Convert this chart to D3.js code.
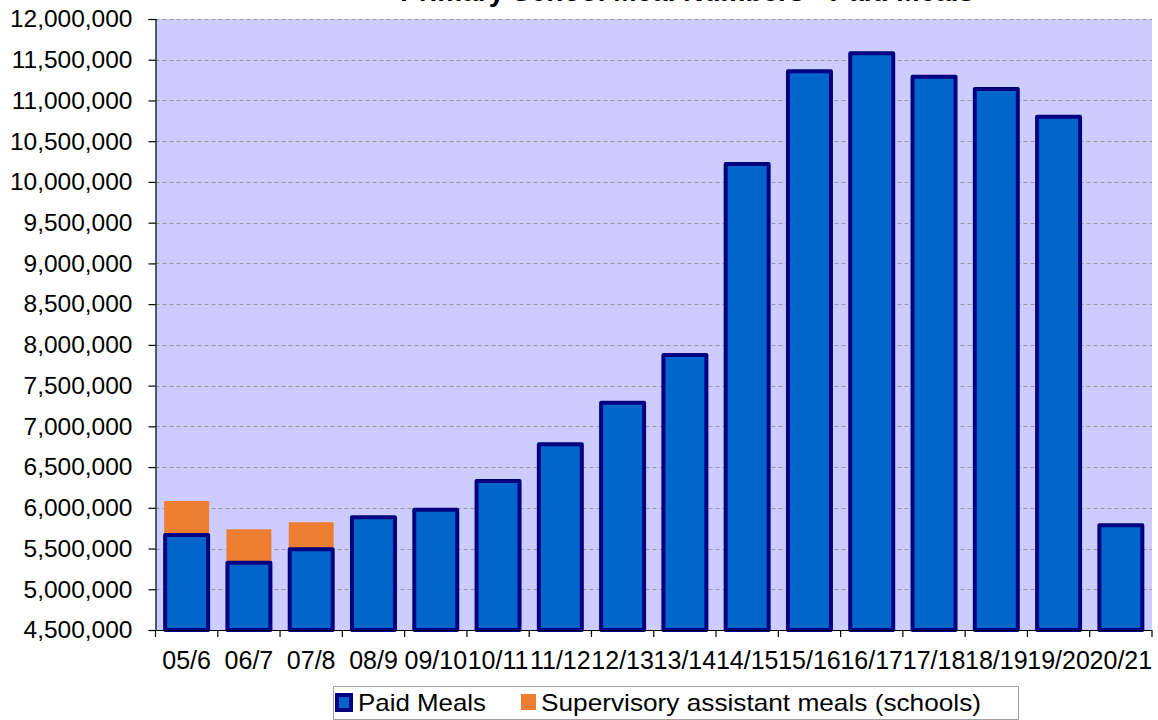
<!DOCTYPE html>
<html>
<head>
<meta charset="utf-8">
<script src="https://cdn.jsdelivr.net/npm/d3@7"></script>
<style>
  html, body { margin: 0; padding: 0; background: #fff; }
  svg { display: block; font-family: "Liberation Sans", Arial, sans-serif; }
</style>
</head>
<body>
<svg id="chart" width="1158" height="720"></svg>
<script>
const title = "Primary School Meal Numbers - Paid Meals";
const categories = ["05/6","06/7","07/8","08/9","09/10","10/11","11/12","12/13","13/14","14/15","15/16","16/17","17/18","18/19","19/20","20/21"];
const paidMeals = [5665000, 5325000, 5490000, 5885000, 5975000, 6330000, 6780000, 7290000, 7875000, 10220000, 11360000, 11580000, 11290000, 11140000, 10800000, 5785000];
const supervisoryMeals = [418000, 411000, 333000, 0, 0, 0, 0, 0, 0, 0, 0, 0, 0, 0, 0, 0];
const yTicks = [4500000, 5000000, 5500000, 6000000, 6500000, 7000000, 7500000, 8000000, 8500000, 9000000, 9500000, 10000000, 10500000, 11000000, 11500000, 12000000];
const seriesNames = ["Paid Meals", "Supervisory assistant meals (schools)"];

const svg = d3.select("#chart");
const m = { left: 155.5, right: 1152, top: 19, bottom: 630 };

const x = d3.scaleBand().domain(categories).range([m.left, m.right]).paddingInner(0.31).paddingOuter(0.155);
const xStep = d3.scaleBand().domain(categories).range([m.left, m.right]).padding(0);
const y = d3.scaleLinear().domain([4500000, 12000000]).range([m.bottom, m.top]);

// plot background
svg.append("rect").attr("x", m.left).attr("y", m.top)
  .attr("width", m.right - m.left).attr("height", m.bottom - m.top)
  .attr("fill", "#CCCCFF");

// gridlines
svg.append("g").selectAll("line").data(yTicks.slice(1)).join("line")
  .attr("x1", m.left).attr("x2", m.right)
  .attr("y1", d => Math.round(y(d)) + 0.5).attr("y2", d => Math.round(y(d)) + 0.5)
  .attr("stroke", "#9a9a9a").attr("stroke-width", 1.2).attr("stroke-dasharray", "4,3");

// title (cropped at top, as in the reference)
svg.append("text").attr("x", 400).attr("y", 1)
  .attr("font-size", 28).attr("font-weight", "bold").attr("fill", "#000")
  .text(title);

// supervisory (stacked on top of paid)
svg.append("g").selectAll("rect").data(categories.filter((c, i) => supervisoryMeals[i] > 0)).join("rect")
  .attr("x", c => x(c) - 1)
  .attr("width", x.bandwidth() + 2)
  .attr("y", c => { const i = categories.indexOf(c); return y(paidMeals[i] + supervisoryMeals[i]); })
  .attr("height", c => { const i = categories.indexOf(c); return y(paidMeals[i]) - y(paidMeals[i] + supervisoryMeals[i]); })
  .attr("fill", "#ED7D31");

// paid bars
svg.append("g").selectAll("rect").data(categories).join("rect")
  .attr("x", c => x(c))
  .attr("width", x.bandwidth())
  .attr("y", (c, i) => y(paidMeals[i]))
  .attr("height", (c, i) => y(4500000) - y(paidMeals[i]))
  .attr("fill", "#0066CC")
  .attr("stroke", "#000080").attr("stroke-width", 4).attr("stroke-linejoin", "round");

// y axis
const yAxis = d3.axisLeft(y).tickValues(yTicks).tickSize(7).tickPadding(16)
  .tickFormat(d3.format(","));
const gy = svg.append("g").attr("transform", `translate(${m.left},0)`).call(yAxis);
gy.select(".domain").attr("stroke", "#000").attr("stroke-width", 1.2);
gy.selectAll(".tick line").attr("stroke", "#000").attr("stroke-width", 1.2);
gy.selectAll(".tick text").attr("font-size", 24.5).attr("fill", "#000")
  .attr("font-family", "Liberation Sans, Arial, sans-serif");

// x axis
const gx = svg.append("g").attr("transform", `translate(0,${m.bottom})`);
gx.append("line").attr("x1", m.left).attr("x2", m.right).attr("y1", 0.5).attr("y2", 0.5)
  .attr("stroke", "#000").attr("stroke-width", 1.2);
const boundaries = categories.map(c => xStep(c)).concat([xStep(categories[categories.length - 1]) + xStep.bandwidth()]);
gx.selectAll("line.tk").data(boundaries).join("line").attr("class", "tk")
  .attr("x1", d => d).attr("x2", d => d).attr("y1", 0).attr("y2", 7)
  .attr("stroke", "#000").attr("stroke-width", 1.2);
gx.selectAll("text").data(categories).join("text")
  .attr("x", c => xStep(c) + xStep.bandwidth() / 2)
  .attr("y", 39).attr("text-anchor", "middle")
  .attr("font-size", 25).attr("fill", "#000")
  .text(c => c);

// legend
const lg = svg.append("g");
lg.append("rect").attr("x", 333.5).attr("y", 686.5).attr("width", 685).attr("height", 33)
  .attr("fill", "#fff").attr("stroke", "#a0a0a0").attr("stroke-width", 1);
lg.append("rect").attr("x", 337).attr("y", 695).attr("width", 14).attr("height", 15)
  .attr("fill", "#0066CC").attr("stroke", "#000080").attr("stroke-width", 4);
lg.append("text").attr("x", 358).attr("y", 711).attr("font-size", 24).attr("fill", "#000")
  .attr("textLength", 128).attr("lengthAdjust", "spacingAndGlyphs").text(seriesNames[0]);
lg.append("rect").attr("x", 521).attr("y", 694).attr("width", 15).attr("height", 16)
  .attr("fill", "#ED7D31");
lg.append("text").attr("x", 541).attr("y", 711).attr("font-size", 24).attr("fill", "#000")
  .attr("textLength", 440).attr("lengthAdjust", "spacingAndGlyphs").text(seriesNames[1]);
</script>
</body>
</html>
